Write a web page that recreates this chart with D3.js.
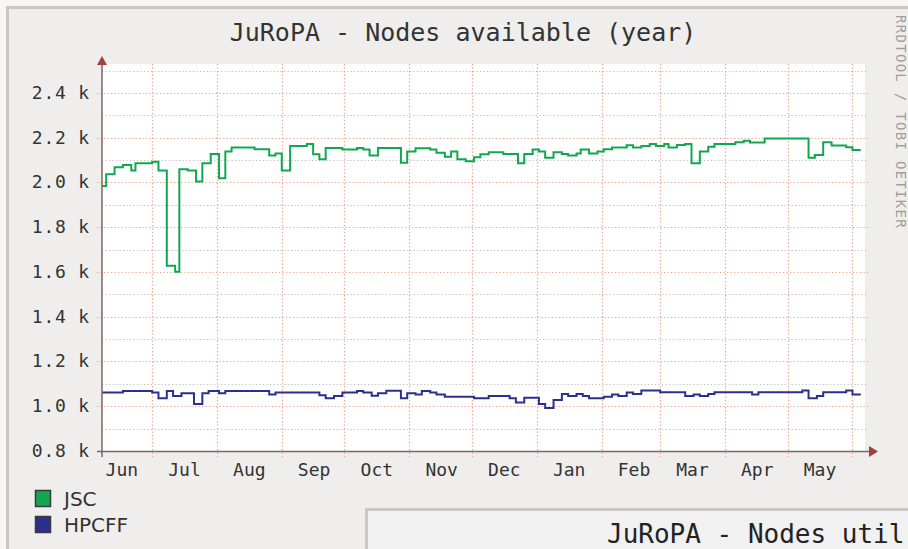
<!DOCTYPE html>
<html>
<head>
<meta charset="utf-8">
<script src="https://cdn.jsdelivr.net/npm/d3@7/dist/d3.min.js"></script>
<style>
  html, body { margin: 0; padding: 0; background: #f7f6f5; }
  svg { display: block; }
</style>
</head>
<body>
<svg id="chart" width="908" height="549"></svg>
<script>
/*
 * DATA - nodes available per site, one year of RRD steps.
 * Days are counted from the first day of the graph (7 Jun).
 */
const start_date = new Date(2009, 5, 7), end_date = new Date(2010, 5, 7), last_day = 363;

const jsc_days  = [0, 2, 6, 10, 14, 16, 24, 27, 31, 35, 37, 41, 45, 48, 52, 56, 59, 62, 73, 80, 83, 86, 90, 98,
                   101, 104, 107, 115, 122, 125, 128, 132, 143, 146, 150, 157, 160, 164, 167, 170, 174, 178, 181,
                   185, 192, 199, 202, 206, 209, 212, 216, 220, 223, 227, 229, 233, 237, 240, 244, 251, 254, 258,
                   262, 265, 269, 271, 275, 279, 282, 286, 290, 293, 303, 307, 310, 317, 338, 341, 345, 349, 356, 359];
const jsc_nodes = [1984, 2037, 2068, 2078, 2053, 2086, 2093, 2053, 1628, 1601, 2059, 2053, 2004, 2086, 2127, 2019,
                   2138, 2156, 2148, 2121, 2129, 2053, 2163, 2172, 2126, 2104, 2154, 2147, 2154, 2147, 2121, 2154,
                   2088, 2138, 2153, 2147, 2133, 2115, 2138, 2104, 2095, 2113, 2126, 2135, 2127, 2086, 2127, 2147,
                   2138, 2111, 2135, 2127, 2121, 2129, 2147, 2129, 2138, 2148, 2156, 2166, 2156, 2163, 2172, 2163,
                   2172, 2156, 2168, 2172, 2086, 2138, 2160, 2172, 2180, 2187, 2179, 2197, 2111, 2123, 2180, 2165,
                   2157, 2145];

const hpcff_days  = [0, 10, 24, 27, 31, 34, 38, 44, 48, 51, 56, 59, 80, 83, 104, 107, 111, 115, 122, 125, 129, 132,
                     136, 143, 146, 150, 153, 157, 160, 164, 178, 185, 195, 198, 202, 209, 212, 216, 220, 223, 227,
                     230, 233, 240, 244, 247, 251, 254, 258, 267, 279, 283, 286, 290, 293, 311, 314, 335, 338, 342,
                     345, 356, 359];
const hpcff_nodes = [1061, 1068, 1061, 1036, 1068, 1046, 1058, 1010, 1058, 1068, 1058, 1068, 1053, 1061, 1049, 1036,
                     1046, 1061, 1068, 1061, 1047, 1058, 1069, 1036, 1058, 1053, 1068, 1061, 1053, 1043, 1036, 1046,
                     1036, 1017, 1038, 1010, 992, 1028, 1055, 1046, 1055, 1046, 1036, 1043, 1053, 1046, 1061, 1055,
                     1070, 1062, 1046, 1053, 1046, 1055, 1062, 1053, 1062, 1070, 1036, 1046, 1062, 1070, 1053];

const series_names  = ["JSC", "HPCFF"];
const series_colors = ["#12a650", "#2c2f8e"];

const month_labels  = ["Jun", "Jul", "Aug", "Sep", "Oct", "Nov", "Dec", "Jan", "Feb", "Mar", "Apr", "May"];
const y_major       = [800, 1000, 1200, 1400, 1600, 1800, 2000, 2200, 2400];
const y_labels      = ["0.8 k", "1.0 k", "1.2 k", "1.4 k", "1.6 k", "1.8 k", "2.0 k", "2.2 k", "2.4 k"];
const y_minor       = [900, 1100, 1300, 1500, 1700, 1900, 2100, 2300, 2500];

const graph = {left: 102, right: 865, top: 70.6, bottom: 451};
const mono  = "'DejaVu Sans Mono', monospace";

const svg = d3.select("#chart");

const graph_x = d3.scaleTime().domain([start_date, end_date]).range([graph.left, graph.right]);
const graph_y = d3.scaleLinear().domain([800, 2500]).range([graph.bottom, graph.top]);

function day_to_date(d){ return d3.timeDay.offset(start_date, d); };

/*
 * to_points - zips day and value arrays, repeating the last value up to last_day.
 */
function to_points(days, values){
  const pts = days.map(function(d, i){ return {date: day_to_date(d), v: values[i]}; });
  pts.push({date: day_to_date(last_day), v: values[values.length - 1]});
  return pts;
};

/*
 * FRAME - outer background, panel border, white canvas.
 */
svg.append("rect").attr("x", 7.5).attr("y", 7.5).attr("width", 910).attr("height", 560)
   .style("fill", "#efeeec").style("stroke", "#cdc5c0").style("stroke-width", 3);

svg.append("rect").attr("x", graph.left).attr("y", 64)
   .attr("width", graph.right - graph.left).attr("height", graph.bottom - 64)
   .style("fill", "#ffffff");

/*
 * GRID - minor (grey) then major (salmon) dotted lines.
 */
const grid_g = svg.append("g");

grid_g.selectAll(".minor").data(y_minor).enter().append("line")
  .attr("x1", graph.left).attr("x2", graph.right + 3)
  .attr("y1", function(d){ return Math.round(graph_y(d)) + 0.5; })
  .attr("y2", function(d){ return Math.round(graph_y(d)) + 0.5; })
  .style("stroke", "#bdbdbd").style("stroke-width", 1.2).style("stroke-dasharray", "1.2,2.3");

grid_g.selectAll(".major").data(y_major.slice(1)).enter().append("line")
  .attr("x1", graph.left - 5).attr("x2", graph.right + 3)
  .attr("y1", function(d){ return Math.round(graph_y(d)) + 0.5; })
  .attr("y2", function(d){ return Math.round(graph_y(d)) + 0.5; })
  .style("stroke", "#f0a088").style("stroke-width", 1.2).style("stroke-dasharray", "1.2,2.3");

const month_starts = d3.timeMonth.range(d3.timeMonth.ceil(start_date), end_date);
grid_g.selectAll(".vgrid").data(month_starts).enter().append("line")
  .attr("x1", function(d){ return Math.round(graph_x(d)) + 0.5; })
  .attr("x2", function(d){ return Math.round(graph_x(d)) + 0.5; })
  .attr("y1", 64).attr("y2", graph.bottom + 6)
  .style("stroke", "#f0a088").style("stroke-width", 1.2).style("stroke-dasharray", "1.2,2.3");

/*
 * LINES - JSC and HPCFF as step curves.
 */
const step_line = d3.line()
  .curve(d3.curveStepAfter)
  .x(function(d){ return graph_x(d.date); })
  .y(function(d){ return graph_y(d.v); });

[[jsc_days, jsc_nodes], [hpcff_days, hpcff_nodes]].forEach(function(s, i){
  svg.append("path")
    .datum(to_points(s[0], s[1]))
    .attr("d", step_line)
    .style("fill", "none")
    .style("stroke", series_colors[i])
    .style("stroke-width", 2);
});

/*
 * AXES - brown axis lines with red arrow heads.
 */
svg.append("line").attr("x1", graph.left - 5).attr("x2", graph.right + 5)
   .attr("y1", graph.bottom + 0.5).attr("y2", graph.bottom + 0.5)
   .style("stroke", "#7d6560").style("stroke-width", 1.5);
svg.append("line").attr("x1", graph.left).attr("x2", graph.left)
   .attr("y1", graph.bottom + 6).attr("y2", 64)
   .style("stroke", "#7d6560").style("stroke-width", 1.5);
svg.append("path").attr("d", "M" + (graph.right + 4) + "," + (graph.bottom - 5) + "L" + (graph.right + 13) + "," +
   (graph.bottom + 0.5) + "L" + (graph.right + 4) + "," + (graph.bottom + 6) + "Z").style("fill", "#a3403a");
svg.append("path").attr("d", "M" + (graph.left - 5) + ",65L" + graph.left + ",56L" + (graph.left + 5) + ",65Z")
   .style("fill", "#a3403a");

// y labels
svg.selectAll(".ylab").data(y_major).enter().append("text")
  .attr("x", 90).attr("y", function(d){ return graph_y(d) + 6; })
  .attr("text-anchor", "end")
  .style("font-family", mono).style("font-size", "18px").style("letter-spacing", "0.8px")
  .style("fill", "#333")
  .text(function(d, i){ return y_labels[i]; });

// month labels, centred on each month
const month_mids = d3.timeMonth.range(d3.timeMonth.floor(start_date), end_date)
  .map(function(d){ return d3.timeDay.offset(d, 15); });
svg.selectAll(".xlab").data(month_mids).enter().append("text")
  .attr("x", function(d){ return graph_x(d) + 1; }).attr("y", 476)
  .attr("text-anchor", "middle")
  .style("font-family", mono).style("font-size", "18px")
  .style("fill", "#333")
  .text(function(d, i){ return month_labels[i]; });

/*
 * TITLE, LEGEND, WATERMARK
 */
svg.append("text").attr("x", 463).attr("y", 41).attr("text-anchor", "middle")
   .style("font-family", mono).style("font-size", "25px").style("fill", "#333")
   .text("JuRoPA - Nodes available (year)");

svg.append("text").attr("transform", "translate(896,15) rotate(90)")
   .style("font-family", mono).style("font-size", "14px").style("letter-spacing", "1.3px")
   .style("fill", "#a29e9b")
   .text("RRDTOOL / TOBI OETIKER");

series_names.forEach(function(name, i){
  svg.append("rect").attr("x", 35.5).attr("y", 490.5 + i * 26).attr("width", 15).attr("height", 16)
     .style("fill", series_colors[i]).style("stroke", "#3a3a3a").style("stroke-width", 1.5);
  svg.append("text").attr("x", 64).attr("y", 506 + i * 26)
     .style("font-family", "'DejaVu Sans', sans-serif").style("font-size", "20px").style("fill", "#333")
     .text(name);
});

// next graph on the page, only its left part is visible
svg.append("rect").attr("x", 366.5).attr("y", 509.5).attr("width", 600).attr("height", 100)
   .style("fill", "#f1f1f1").style("stroke", "#c8c8c8").style("stroke-width", 3);
svg.append("text").attr("x", 607).attr("y", 543)
   .style("font-family", mono).style("font-size", "26px").style("fill", "#222")
   .text("JuRoPA - Nodes util");
</script>
</body>
</html>
